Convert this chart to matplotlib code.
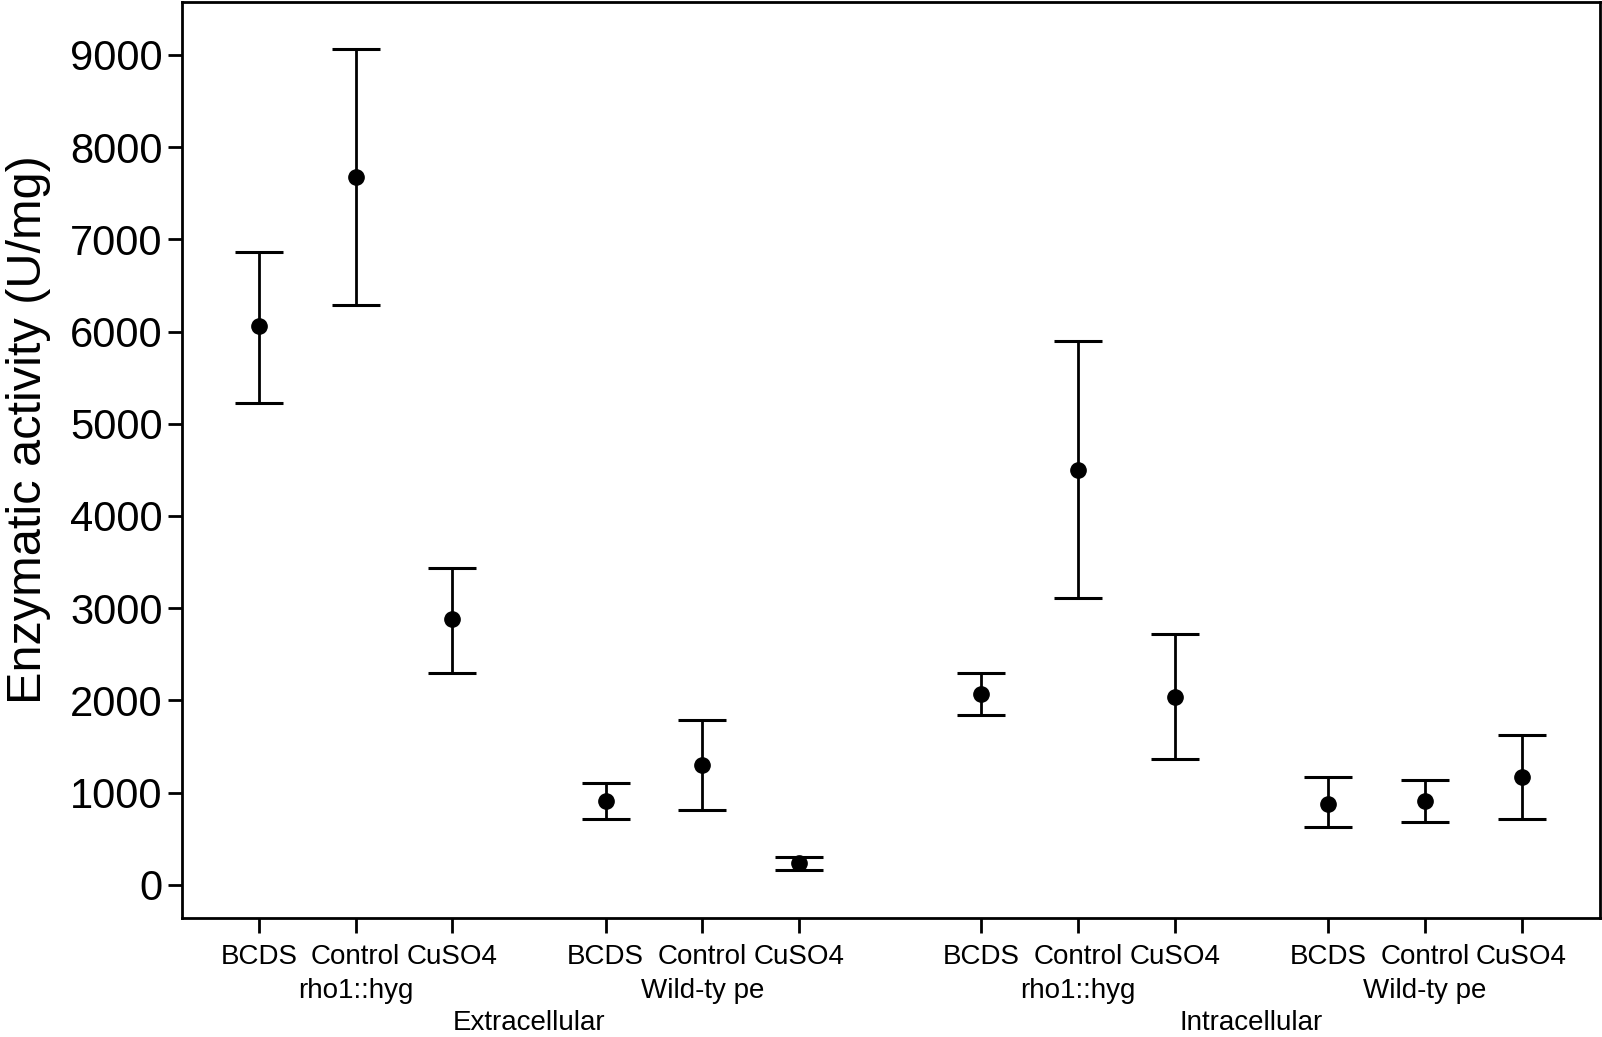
import numpy as np
import matplotlib
matplotlib.use("Agg")
import matplotlib.pyplot as plt
from matplotlib.transforms import blended_transform_factory

plt.rcParams['font.family'] = ['Liberation Sans', 'DejaVu Sans']

# Data (U/mg): mean, upper and lower error bar ends
treatments = ['BCDS', 'Control', 'CuSO4']
strains = ['rho1::hyg', 'Wild-ty pe']
fractions = ['Extracellular', 'Intracellular']

means = [6063, 7672, 2880, 911, 1301, 235,
         2070, 4499, 2041, 878, 911, 1174]
upper = [6865, 9062, 3433, 1102, 1785, 300,
         2302, 5901, 2717, 1167, 1138, 1626]
lower = [5222, 6287, 2295, 719, 813, 163,
         1843, 3115, 1362, 625, 686, 712]

# x layout: 3 treatments per strain, gaps between strains and fractions
step, strain_gap, frac_gap = 1.0, 1.585, 1.886
xs = []
pos = 0.0
for f in range(len(fractions)):
    if f > 0:
        pos += frac_gap - step
    for s in range(len(strains)):
        if s > 0:
            pos += strain_gap - step
        for t in range(len(treatments)):
            xs.append(pos)
            pos += step
xs = np.array(xs)

means = np.array(means)
yerr = np.vstack([means - np.array(lower), np.array(upper) - means])

fig = plt.figure(figsize=(16.02, 10.37), dpi=100)
ax = fig.add_axes([182 / 1602, 1 - 918 / 1037, (1600 - 182) / 1602, 916 / 1037])

ax.errorbar(xs, means, yerr=yerr, fmt='o', color='black', ms=11,
            elinewidth=2, capsize=17, capthick=2.2, ecolor='black')

unit = 96.7  # px per step
ax.set_xlim(-(259 - 182) / unit, (1600 - 259) / unit)
ax.set_ylim(-358, 9572)
ax.set_yticks(np.arange(0, 9001, 1000))
ax.set_xticks(xs)
ax.set_xticklabels(treatments * (len(strains) * len(fractions)), fontsize=20)

ax.tick_params(axis='y', labelsize=30, length=10, width=2, direction='out', pad=4)
ax.tick_params(axis='x', length=11, width=2, direction='out', pad=8)
for sp in ax.spines.values():
    sp.set_linewidth(2)

ax.set_ylabel('Enzymatic activity (U/mg)', fontsize=35, va='center')
ax.yaxis.set_label_coords((29 - 182) / 1418, (918 - 430) / 916)

# group labels below the tick labels
trans = blended_transform_factory(ax.transData, fig.transFigure)
n_t = len(treatments)
for i in range(len(fractions) * len(strains)):
    cx = xs[i * n_t:(i + 1) * n_t].mean()
    ax.text(cx, 1 - 991 / 1037, strains[i % len(strains)], transform=trans,
            ha='center', va='center', fontsize=20)
n_f = n_t * len(strains)
for f, name in enumerate(fractions):
    cx = (xs[f * n_f] + xs[(f + 1) * n_f - 1]) / 2
    ax.text(cx, 1 - 1023 / 1037, name, transform=trans,
            ha='center', va='center', fontsize=20)

fig.savefig('out.png', dpi=100)
